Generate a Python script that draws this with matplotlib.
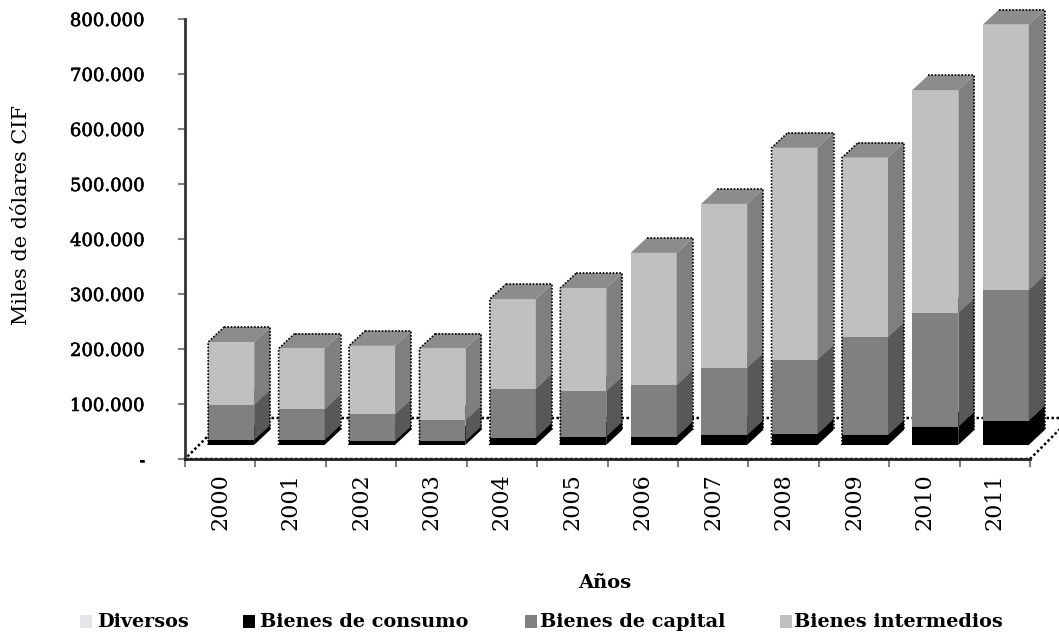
# Importaciones por tipo de bien, 2000-2011

import matplotlib
matplotlib.use('Agg')
import matplotlib.pyplot as plt
import matplotlib.patheffects as pe
from matplotlib.patches import Polygon, Rectangle

years = ['2000', '2001', '2002', '2003', '2004', '2005',
         '2006', '2007', '2008', '2009', '2010', '2011']
diversos = [300, 300, 300, 300, 300, 300, 300, 300, 300, 300, 300, 300]
consumo = [9000, 9000, 7000, 7000, 13000, 15000, 15000, 18000, 20000, 18000, 33000, 44000]
capital = [64000, 56000, 49000, 38000, 89000, 83000, 94000, 122000, 135000, 178000, 207000, 238000]
intermedios = [114000, 110000, 124000, 130000, 163000, 187000, 240000, 298000, 385000, 326000, 405000, 482000]

y_ticks = [0, 100000, 200000, 300000, 400000, 500000, 600000, 700000, 800000]
legend_names = ['Diversos', 'Bienes de consumo', 'Bienes de capital', 'Bienes intermedios']

# front, side, top shades per series
shades = {
    'diversos': ('#e6e6ea', '#a0a0a4', '#b8b8bc'),
    'consumo': ('#000000', '#000000', '#000000'),
    'capital': ('#808080', '#585858', '#6c6c6c'),
    'intermedios': ('#c0c0c0', '#7f7f7f', '#8c8c8c'),
}

W, H = 1059, 632
FONT = 'DejaVu Serif'
heavy = [pe.withStroke(linewidth=0.4, foreground='black')]

fig = plt.figure(figsize=(W / 100, H / 100), dpi=100, facecolor='white')
ax = fig.add_axes([185 / W, 1 - 459 / H, 845 / W, 440 / H])
ax.set_xlim(0, 12)
ax.set_ylim(0, 800000)

# pixel sizes turned into data units
px_x = 12 / 845
px_y = 800000 / 440
bar_w = 46 * px_x
side_x = 16 * px_x
side_y = 15 * px_y
base_y = 14 * px_y
shift_x = 11 * px_x


def box(x0, y0, y1, colors, z):
    front, side, top = colors
    x1 = x0 + bar_w
    ax.add_patch(Rectangle((x0, y0), bar_w, y1 - y0, fc=front, ec='none', zorder=z, clip_on=False))
    ax.add_patch(Polygon([(x1, y0), (x1 + side_x, y0 + side_y), (x1 + side_x, y1 + side_y), (x1, y1)],
                         fc=side, ec='none', zorder=z, clip_on=False))
    ax.add_patch(Polygon([(x0, y1), (x0 + side_x, y1 + side_y), (x1 + side_x, y1 + side_y), (x1, y1)],
                         fc=top, ec='none', zorder=z, clip_on=False))


# floor of the 3d chart
floor_dx = 41 * px_x
floor_dy = 41 * px_y
ax.add_patch(Polygon([(0, 0), (12, 0), (12 + floor_dx, floor_dy), (floor_dx, floor_dy)],
                     fc='white', ec='black', lw=1.8, ls=(0, (1, 1)), zorder=1, clip_on=False))

for i in range(len(years)):
    x0 = i + 0.5 + shift_x - bar_w / 2
    bottom = base_y
    z = 2
    for name, values in [('diversos', diversos), ('consumo', consumo),
                         ('capital', capital), ('intermedios', intermedios)]:
        box(x0, bottom, bottom + values[i], shades[name], z)
        bottom += values[i]
        z += 0.1
    # dotted outline of the column, the left edge only shows on some of them
    x1 = x0 + bar_w
    ax.plot([x0 + side_x, x1 + side_x, x1 + side_x],
            [bottom + side_y, bottom + side_y, base_y + side_y],
            color='black', lw=1.2, ls=(0, (1, 1)), zorder=3, clip_on=False)
    if i in [0, 1, 2, 3, 4, 5, 8, 9]:
        ax.plot([x0, x0, x0 + side_x], [base_y, bottom, bottom + side_y],
                color='black', lw=1.2, ls=(0, (1, 1)), zorder=3, clip_on=False)

for s in ['top', 'right']:
    ax.spines[s].set_visible(False)
ax.spines['left'].set_linewidth(2)
ax.spines['left'].set_color('#333333')
ax.spines['bottom'].set_linewidth(2)
ax.spines['bottom'].set_color('#222222')
ax.spines['bottom'].set_linestyle((0, (1, 1)))

ax.set_yticks(y_ticks)
ax.set_yticklabels(['-' if v == 0 else f'{v:,}'.replace(',', '.') for v in y_ticks],
                   fontfamily=FONT, fontsize=13, color='black', path_effects=heavy)
ax.tick_params(axis='y', length=5, width=1.5, color='#808080', pad=24)

# ticks sit on category edges, labels in the middle
ax.set_xticks(range(13))
ax.set_xticklabels([])
ax.set_xticks([i + 0.5 for i in range(12)], minor=True)
ax.set_xticklabels(years, minor=True, rotation=90, fontfamily=FONT, fontsize=16, color='black')
ax.tick_params(axis='x', which='major', length=6, width=1.5, color='#808080')
ax.tick_params(axis='x', which='minor', length=0, pad=10)

fig.text(22 / W, 1 - 215 / H, 'Miles de dólares CIF', rotation=90, ha='center', va='center',
         fontfamily=FONT, fontsize=15, color='black')
fig.text(605 / W, 1 - 583 / H, 'Años', ha='center', va='center',
         fontfamily=FONT, fontsize=14, fontweight='bold', color='black')

# legend placed by hand, the gaps are uneven in the original
legend_handles = [80, 243, 525, 780]
legend_text = [97, 260, 540, 794]
legend_colors = [shades['diversos'][0], shades['consumo'][0], shades['capital'][0], shades['intermedios'][0]]
for hx, tx, name, col in zip(legend_handles, legend_text, legend_names, legend_colors):
    fig.add_artist(Rectangle((hx / W, 1 - 628 / H), 12 / W, 13 / H, transform=fig.transFigure, fc=col, ec='none'))
    fig.text(tx / W, 1 - 622 / H, name, ha='left', va='center',
             fontfamily=FONT, fontsize=13.9, fontweight='bold', color='black')

fig.savefig('out.png', dpi=100)
